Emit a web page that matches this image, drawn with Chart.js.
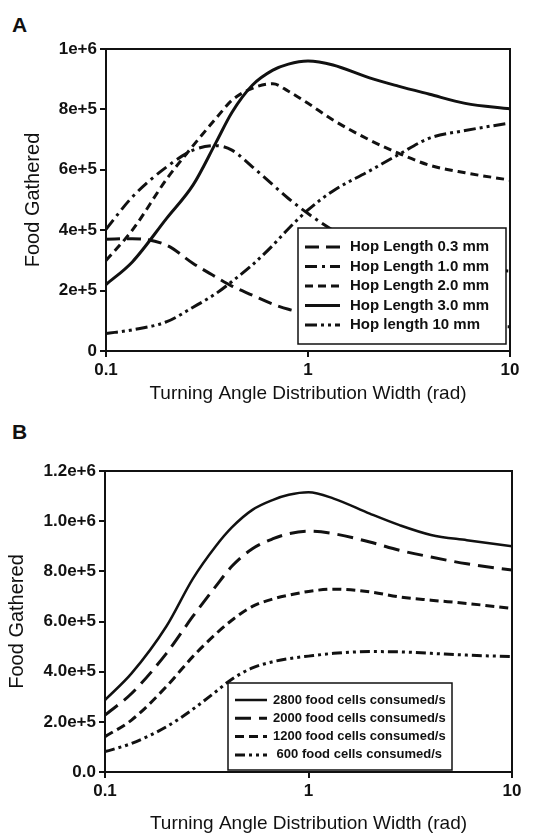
<!DOCTYPE html>
<html>
<head>
<meta charset="utf-8">
<script src="https://cdn.jsdelivr.net/npm/chart.js@4.4.0/dist/chart.umd.min.js"></script>
<style>
  body { margin: 0; background: #fff; width: 557px; height: 836px; position: relative; overflow: hidden; }
  .panel { position: absolute; left: 0; width: 557px; }
  .tag { position: absolute; left: 12px; font: bold 21px "Liberation Sans", Arial, sans-serif; color: #111; }
</style>
</head>
<body>
<div class="tag" style="top: 13px;">A</div>
<div class="tag" style="top: 420px;">B</div>
<div class="panel" style="top: 0; height: 410px;"><canvas id="chartA" width="557" height="410"></canvas></div>
<div class="panel" style="top: 410px; height: 426px;"><canvas id="chartB" width="557" height="426"></canvas></div>
<script>
// Largeur de la distribution (rad), commune aux deux panneaux
const angleWidths = [0.1, 0.135, 0.2, 0.27, 0.35, 0.42, 0.53, 0.67, 0.8, 1, 1.33, 2, 2.8, 4, 6, 10];

// Panneau A : longueur de saut
const hopLabels = ['Hop Length 0.3 mm', 'Hop Length 1.0 mm', 'Hop Length 2.0 mm', 'Hop Length 3.0 mm', 'Hop length 10 mm'];
const hop03 = [3.70e5, 3.72e5, 3.50e5, 2.90e5, 2.45e5, 2.15e5, 1.85e5, 1.55e5, 1.38e5, 1.25e5, 1.12e5, 1.00e5, 0.93e5, 0.88e5, 0.84e5, 0.80e5];
const hop10 = [4.03e5, 5.10e5, 6.10e5, 6.65e5, 6.80e5, 6.65e5, 6.10e5, 5.50e5, 5.05e5, 4.55e5, 4.00e5, 3.45e5, 3.10e5, 2.85e5, 2.72e5, 2.65e5];
const hop20 = [3.00e5, 4.00e5, 5.70e5, 6.80e5, 7.70e5, 8.30e5, 8.70e5, 8.85e5, 8.60e5, 8.20e5, 7.65e5, 7.00e5, 6.55e5, 6.15e5, 5.90e5, 5.66e5];
const hop30 = [2.20e5, 2.95e5, 4.40e5, 5.50e5, 6.90e5, 7.90e5, 8.80e5, 9.30e5, 9.50e5, 9.60e5, 9.47e5, 9.05e5, 8.77e5, 8.50e5, 8.20e5, 8.02e5];
const hop100 = [0.58e5, 0.70e5, 0.97e5, 1.45e5, 1.90e5, 2.30e5, 2.85e5, 3.50e5, 4.05e5, 4.67e5, 5.30e5, 5.95e5, 6.50e5, 7.05e5, 7.30e5, 7.55e5];
const yTicksA = ['0', '2e+5', '4e+5', '6e+5', '8e+5', '1e+6'];

// Panneau B : taux de consommation
const rateLabels = ['2800 food cells consumed/s', '2000 food cells consumed/s', '1200 food cells consumed/s', ' 600 food cells consumed/s'];
const rate2800 = [2.87e5, 3.93e5, 5.80e5, 7.70e5, 9.00e5, 9.75e5, 1.045e6, 1.085e6, 1.105e6, 1.115e6, 1.09e6, 1.03e6, 9.84e5, 9.45e5, 9.24e5, 9.00e5];
const rate2000 = [2.27e5, 3.13e5, 4.72e5, 6.20e5, 7.40e5, 8.20e5, 8.90e5, 9.30e5, 9.50e5, 9.60e5, 9.50e5, 9.17e5, 8.84e5, 8.57e5, 8.30e5, 8.05e5];
const rate1200 = [1.41e5, 2.07e5, 3.40e5, 4.60e5, 5.50e5, 6.05e5, 6.60e5, 6.90e5, 7.05e5, 7.20e5, 7.29e5, 7.18e5, 6.98e5, 6.85e5, 6.72e5, 6.52e5];
const rate600 = [0.81e5, 1.14e5, 1.80e5, 2.50e5, 3.20e5, 3.70e5, 4.15e5, 4.40e5, 4.52e5, 4.62e5, 4.73e5, 4.80e5, 4.79e5, 4.73e5, 4.66e5, 4.60e5];
const yTicksB = ['0.0', '2.0e+5', '4.0e+5', '6.0e+5', '8.0e+5', '1.0e+6', '1.2e+6'];

const xTicks = ['0.1', '1', '10'];
const xTickValues = [0.1, 1, 10];

const FONT = '"Liberation Sans", Arial, sans-serif';

function serie(label, values, dash, width) {
    return {
        label: label,
        data: angleWidths.map((x, i) => ({ x: x, y: values[i] })),
        borderColor: '#111',
        borderWidth: width,
        borderDash: dash,
        pointRadius: 0,
        cubicInterpolationMode: 'monotone',
        fill: false
    };
}

// Cadre complet autour de la zone de tracé
const cadre = {
    id: 'cadre',
    afterDatasetsDraw(chart) {
        const a = chart.chartArea, ctx = chart.ctx;
        ctx.save();
        ctx.strokeStyle = '#111';
        ctx.lineWidth = 2;
        ctx.strokeRect(a.left, a.top, a.right - a.left, a.bottom - a.top);
        ctx.restore();
    }
};

// Légende dans un cadre blanc par-dessus les courbes
const legende = {
    id: 'legende',
    afterDatasetsDraw(chart, args, opts) {
        const ctx = chart.ctx;
        ctx.save();
        ctx.fillStyle = '#fff';
        ctx.fillRect(opts.x, opts.y, opts.w, opts.h);
        ctx.strokeStyle = '#111';
        ctx.lineWidth = 1.5;
        ctx.strokeRect(opts.x, opts.y, opts.w, opts.h);
        ctx.font = 'bold ' + opts.fontSize + 'px ' + FONT;
        ctx.textBaseline = 'middle';
        ctx.fillStyle = '#111';
        chart.data.datasets.forEach((ds, i) => {
            const y = opts.y + opts.first + i * opts.step;
            ctx.beginPath();
            ctx.setLineDash(ds.borderDash || []);
            ctx.lineWidth = ds.borderWidth;
            ctx.moveTo(opts.x + opts.lineX, y);
            ctx.lineTo(opts.x + opts.lineX + opts.lineW, y);
            ctx.stroke();
            ctx.setLineDash([]);
            ctx.fillText(ds.label, opts.x + opts.textX, y);
        });
        ctx.restore();
    }
};

function options(yMax, yStep, yLabels, cfg) {
    return {
        responsive: false,
        animation: false,
        layout: { padding: cfg.padding },
        plugins: {
            legend: { display: false },
            tooltip: { enabled: false },
            legende: cfg.legend
        },
        scales: {
            x: {
                type: 'logarithmic',
                min: 0.1,
                max: 10,
                afterBuildTicks: axis => { axis.ticks = xTickValues.map(v => ({ value: v })); },
                afterFit: axis => { axis.height = cfg.xHeight; },
                ticks: {
                    color: '#111',
                    font: { family: FONT, size: 17, weight: 'bold' },
                    maxRotation: 0,
                    padding: 3,
                    callback: (v, i) => xTicks[i]
                },
                grid: { drawOnChartArea: false, tickLength: 6, color: '#111', lineWidth: 2 },
                border: { color: '#111', width: 2 },
                title: {
                    display: true,
                    text: 'Turning Angle Distribution Width (rad)',
                    color: '#111',
                    font: { family: FONT, size: 19 },
                    padding: { top: 4, bottom: cfg.titleBottom }
                }
            },
            y: {
                min: 0,
                max: yMax,
                afterFit: axis => { axis.width = cfg.yWidth; },
                ticks: {
                    stepSize: yStep,
                    color: '#111',
                    font: { family: FONT, size: 17, weight: 'bold' },
                    padding: 3,
                    callback: (v, i) => yLabels[i]
                },
                grid: { drawOnChartArea: false, tickLength: 6, color: '#111', lineWidth: 2 },
                border: { color: '#111', width: 2 },
                title: {
                    display: true,
                    text: 'Food Gathered',
                    color: '#111',
                    font: { family: FONT, size: 20 },
                    padding: { top: 4, bottom: 4 }
                }
            }
        }
    };
}

new Chart(document.getElementById('chartA'), {
    type: 'line',
    data: {
        datasets: [
            serie(hopLabels[0], hop03, [14, 7], 3),
            serie(hopLabels[1], hop10, [12, 5, 3, 5], 3),
            serie(hopLabels[2], hop20, [8, 5], 3),
            serie(hopLabels[3], hop30, [], 3),
            serie(hopLabels[4], hop100, [12, 4, 3, 4, 3, 4], 3)
        ]
    },
    options: options(1e6, 2e5, yTicksA, {
        padding: { left: 17, right: 47, top: 49, bottom: 3 },
        yWidth: 89,
        xHeight: 56,
        titleBottom: 2,
        legend: { x: 298, y: 228, w: 208, h: 116, first: 19, step: 19.5, lineX: 7, lineW: 35, textX: 52, fontSize: 15 }
    }),
    plugins: [cadre, legende]
});

new Chart(document.getElementById('chartB'), {
    type: 'line',
    data: {
        datasets: [
            serie(rateLabels[0], rate2800, [], 2.5),
            serie(rateLabels[1], rate2000, [16, 8], 3),
            serie(rateLabels[2], rate1200, [9, 5], 3),
            serie(rateLabels[3], rate600, [10, 4, 3, 4, 3, 4], 3)
        ]
    },
    options: options(1.2e6, 2e5, yTicksB, {
        padding: { left: 1, right: 45, top: 61, bottom: 0 },
        yWidth: 104,
        xHeight: 64,
        titleBottom: 1,
        legend: { x: 228, y: 273, w: 224, h: 87, first: 17, step: 18.3, lineX: 7, lineW: 32, textX: 45, fontSize: 13 }
    }),
    plugins: [cadre, legende]
});
</script>
</body>
</html>
